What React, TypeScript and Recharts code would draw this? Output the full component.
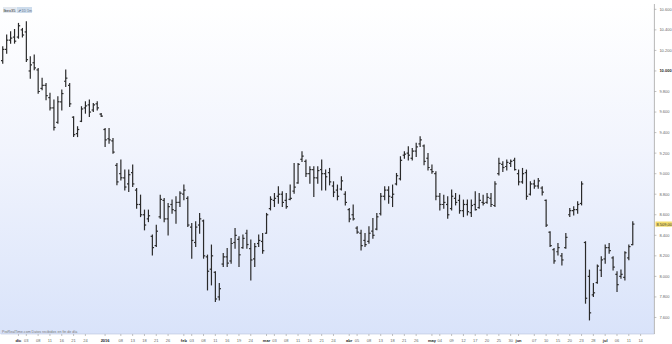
import React from 'react';
import { ComposedChart, Bar, XAxis, YAxis, ReferenceLine } from 'recharts';

const dates = [
  '2015-11-25','2015-11-26','2015-11-27','2015-11-30',
  '2015-12-01','2015-12-02','2015-12-03','2015-12-04','2015-12-07','2015-12-08','2015-12-09','2015-12-10','2015-12-11','2015-12-14','2015-12-15','2015-12-16','2015-12-17','2015-12-18','2015-12-21','2015-12-22','2015-12-23','2015-12-24','2015-12-28','2015-12-29','2015-12-30','2015-12-31',
  '2016-01-04','2016-01-05','2016-01-06','2016-01-07','2016-01-08','2016-01-11','2016-01-12','2016-01-13','2016-01-14','2016-01-15','2016-01-18','2016-01-19','2016-01-20','2016-01-21','2016-01-22','2016-01-25','2016-01-26','2016-01-27','2016-01-28','2016-01-29',
  '2016-02-01','2016-02-02','2016-02-03','2016-02-04','2016-02-05','2016-02-08','2016-02-09','2016-02-10','2016-02-11','2016-02-12','2016-02-15','2016-02-16','2016-02-17','2016-02-18','2016-02-19','2016-02-22','2016-02-23','2016-02-24','2016-02-25','2016-02-26','2016-02-29',
  '2016-03-01','2016-03-02','2016-03-03','2016-03-04','2016-03-07','2016-03-08','2016-03-09','2016-03-10','2016-03-11','2016-03-14','2016-03-15','2016-03-16','2016-03-17','2016-03-18','2016-03-21','2016-03-22','2016-03-23','2016-03-24','2016-03-29','2016-03-30','2016-03-31',
  '2016-04-01','2016-04-04','2016-04-05','2016-04-06','2016-04-07','2016-04-08','2016-04-11','2016-04-12','2016-04-13','2016-04-14','2016-04-15','2016-04-18','2016-04-19','2016-04-20','2016-04-21','2016-04-22','2016-04-25','2016-04-26','2016-04-27','2016-04-28','2016-04-29',
  '2016-05-02','2016-05-03','2016-05-04','2016-05-05','2016-05-06','2016-05-09','2016-05-10','2016-05-11','2016-05-12','2016-05-13','2016-05-16','2016-05-17','2016-05-18','2016-05-19','2016-05-20','2016-05-23','2016-05-24','2016-05-25','2016-05-26','2016-05-27','2016-05-30','2016-05-31',
  '2016-06-01','2016-06-02','2016-06-03','2016-06-06','2016-06-07','2016-06-08','2016-06-09','2016-06-10','2016-06-13','2016-06-14','2016-06-15','2016-06-16','2016-06-17','2016-06-20','2016-06-21','2016-06-22','2016-06-23','2016-06-24','2016-06-27','2016-06-28','2016-06-29','2016-06-30',
  '2016-07-01','2016-07-04','2016-07-05','2016-07-06','2016-07-07','2016-07-08','2016-07-11','2016-07-12',
  '2016-07-13','2016-07-14','2016-07-15','2016-07-18','2016-07-19',
];

const opens = [
  10100,10210,10300,10330,
  10330,10400,10380,10000,10080,10010,9830,9860,9740,9640,9500,9700,9900,9860,9550,9390,9510,9640,9670,9620,9680,9580,
  9430,9340,9320,9080,9000,8960,8900,9010,8840,8700,8600,8560,8390,8300,8580,8740,8560,8700,8640,8720,
  8800,8760,8480,8330,8500,8540,8190,8070,8040,7800,8120,8190,8150,8330,8360,8280,8420,8270,8170,8320,8340,
  8420,8660,8740,8780,8800,8740,8750,8830,8910,9140,9120,9000,9040,8960,9040,9000,9010,8880,8840,8850,8800,
  8650,8600,8470,8420,8350,8340,8440,8460,8610,8780,8840,8770,8900,8950,9180,9200,9150,9220,9290,9270,9150,
  9040,9000,8780,8700,8700,8660,8760,8740,8640,8700,8620,8700,8670,8720,8720,8760,8690,9000,9090,9070,9100,9130,
  9000,8920,9010,8800,8900,8880,8860,8740,8430,8260,8240,8200,8280,8600,8640,8650,8710,8330,8000,7820,7940,8060,
  8170,8280,8180,8020,8000,7990,8180,8310,
];
const highs = [
  10237,10350,10383,10405,
  10464,10415,10480,10140,10156,10026,9929,9880,9783,9718,9750,9815,10010,9880,9555,9458,9653,9701,9718,9685,9701,9588,
  9442,9442,9344,9101,9133,9036,9036,9085,8857,8792,8646,8646,8403,8500,8792,8760,8711,8744,8776,8825,
  8890,8776,8516,8533,8614,8549,8208,8306,8046,7932,8224,8273,8370,8468,8387,8403,8451,8354,8322,8403,8419,
  8614,8776,8808,8873,8825,8808,8890,9101,9101,9215,9133,9068,9068,9068,9133,9036,9052,8922,8890,8971,8825,
  8663,8695,8484,8451,8419,8484,8565,8614,8808,8873,8873,8890,9003,9166,9215,9263,9247,9296,9361,9280,9198,
  9085,9020,8808,8792,8776,8841,8808,8792,8744,8744,8744,8825,8808,8792,8808,8808,8922,9150,9117,9133,9133,9150,
  9036,9052,9036,8922,8938,8955,8873,8744,8435,8273,8322,8224,8419,8663,8679,8727,8922,8338,8062,7932,8111,8192,
  8306,8322,8192,8046,8062,8241,8306,8533,
];
const lows = [
  10075,10172,10270,10270,
  10318,10330,10091,9929,10010,9782,9815,9718,9620,9425,9490,9620,9847,9653,9360,9360,9506,9588,9555,9604,9620,9555,
  9263,9296,9198,8890,8938,8841,8825,8873,8663,8581,8452,8532,8208,8289,8565,8532,8403,8614,8516,8679,
  8744,8484,8176,8289,8419,8176,7867,7916,7754,7770,8095,8095,8127,8273,8095,8273,8273,7965,8095,8289,8224,
  8419,8646,8679,8711,8679,8663,8744,8808,8906,9117,8971,8906,8776,8906,8841,8841,8890,8776,8744,8841,8695,
  8532,8549,8419,8257,8289,8322,8370,8452,8597,8744,8711,8679,8890,8938,9150,9133,9133,9166,9263,9085,9036,
  9003,8744,8646,8663,8565,8646,8695,8614,8581,8597,8581,8646,8663,8695,8711,8679,8679,8987,9020,9036,9068,9036,
  8890,8906,8750,8792,8857,8857,8792,8484,8289,8127,8208,8111,8273,8581,8597,8614,8695,7738,7575,7802,7932,7997,
  8127,8224,8062,7851,7981,7965,8160,8306,
];
const closes = [
  10210,10300,10320,10290,
  10440,10350,10110,10060,10030,9800,9860,9760,9640,9450,9700,9780,9930,9680,9380,9430,9630,9660,9600,9670,9640,9560,
  9330,9330,9210,8920,8960,8870,8990,8900,8700,8600,8500,8590,8280,8440,8750,8560,8680,8650,8720,8810,
  8840,8500,8350,8480,8560,8200,8050,8200,7780,7880,8190,8130,8320,8400,8210,8370,8310,8160,8290,8350,8250,
  8600,8750,8760,8800,8720,8680,8760,8870,9090,9170,9000,9040,8960,9030,9000,8970,8920,8820,8780,8930,8720,
  8560,8560,8430,8300,8310,8420,8400,8580,8780,8840,8780,8800,8980,9130,9190,9180,9220,9260,9330,9120,9060,
  9020,8780,8700,8720,8600,8780,8720,8640,8700,8630,8690,8650,8740,8710,8770,8700,8900,9100,9060,9110,9120,9040,
  8920,9000,8780,8900,8880,8930,8820,8500,8300,8150,8280,8160,8380,8640,8650,8700,8900,7787,7645,7840,8100,8160,
  8280,8250,8090,7920,8020,8230,8290,8509,
];

const xTickDates = [
  '2015-12-01','2015-12-03','2015-12-08','2015-12-11','2015-12-16','2015-12-21','2015-12-24',
  '2016-01-04','2016-01-08','2016-01-13','2016-01-18','2016-01-21','2016-01-26',
  '2016-02-01','2016-02-03','2016-02-08','2016-02-11','2016-02-16','2016-02-19','2016-02-24',
  '2016-03-01','2016-03-03','2016-03-08','2016-03-11','2016-03-16','2016-03-21','2016-03-24',
  '2016-04-01','2016-04-05','2016-04-08','2016-04-13','2016-04-18','2016-04-21','2016-04-26',
  '2016-05-02','2016-05-04','2016-05-09','2016-05-12','2016-05-17','2016-05-20','2016-05-25','2016-05-30',
  '2016-06-01','2016-06-07','2016-06-10','2016-06-15','2016-06-20','2016-06-23','2016-06-28',
  '2016-07-01','2016-07-06','2016-07-11','2016-07-14',
];
const xTickLabels = [
  'dic','03','08','11','16','21','24',
  '2016','08','13','18','21','26',
  'feb','03','08','11','16','19','24',
  'mar','03','08','11','16','21','24',
  'abr','05','08','13','18','21','26',
  'may','04','09','12','17','20','25','30',
  'jun','07','10','15','20','23','28',
  'jul','06','11','14',
];
const monthTickLabels = ['dic','2016','feb','mar','abr','may','jun','jul'];

const yTicks = [7600, 7800, 8000, 8200, 8400, 8600, 8800, 9000, 9200, 9400, 9600, 9800, 10000, 10200, 10400, 10600];
const lastPrice = 8509;

const data = dates.map((date, i) => ({
  date,
  open: opens[i] ?? null,
  high: highs[i] ?? null,
  low: lows[i] ?? null,
  close: closes[i] ?? null,
}));

const FONT = '"Liberation Sans", Arial, sans-serif';

const OhlcShape = (props: any) => {
  const { x, y, width, height, payload } = props;
  if (!payload || payload.high == null || payload.low == null) return null;
  const top = Math.min(y, y + height);
  const bottom = Math.max(y, y + height);
  const span = payload.high - payload.low || 1;
  const pix = (v: number) => top + ((payload.high - v) / span) * (bottom - top);
  const cx = x + width / 2;
  const t = 1.7;
  const yo = pix(payload.open);
  const yc = pix(payload.close);
  return (
    <g stroke="#2a2a2a" strokeWidth={1.2}>
      <line x1={cx} x2={cx} y1={top - 0.4} y2={bottom + 0.4} />
      <line x1={cx - t} x2={cx} y1={yo} y2={yo} />
      <line x1={cx} x2={cx + t} y1={yc} y2={yc} />
    </g>
  );
};

const XTick = (props: any) => {
  const { x, y, payload } = props;
  const i = xTickDates.indexOf(payload.value);
  const label = i >= 0 ? xTickLabels[i] : '';
  const isMonth = monthTickLabels.includes(label);
  return (
    <text x={x} y={y + 4} textAnchor="middle" fontFamily={FONT} fontSize={4}
      fontWeight={isMonth ? 700 : 400} fill={isMonth ? '#222' : '#666'}>
      {label}
    </text>
  );
};

const fmt = (v: number) => {
  const s = String(Math.round(v));
  return s.replace(/\B(?=(\d{3})+(?!\d))/g, '.');
};

const YTick = (props: any) => {
  const { x, y, payload } = props;
  const strong = payload.value === 10000;
  return (
    <text x={x + 1} y={y + 1.4} textAnchor="start" fontFamily={FONT} fontSize={4}
      fontWeight={strong ? 700 : 400} fill={strong ? '#222' : '#666'}>
      {fmt(payload.value)}
    </text>
  );
};

const PriceTag = (props: any) => {
  const vb = props.viewBox || {};
  const px = (vb.x ?? 0) + (vb.width ?? 0);
  const py = vb.y ?? 0;
  return (
    <g>
      <rect x={px + 1} y={py - 2.6} width={16.5} height={5.2} fill="#f3dc6c" />
      <text x={px + 2} y={py + 1.4} fontFamily={FONT} fontSize={4} fill="#333">8.509,00</text>
    </g>
  );
};

export default function App() {
  return (
    <div style={{ position: 'absolute', left: 0, top: 0, width: 672, height: 344, background: '#ffffff', overflow: 'hidden' }}>
      <div style={{
        position: 'absolute', left: 0, top: 4, width: 654, height: 330,
        background: 'linear-gradient(to bottom, #ffffff 0%, #f1f4fd 45%, #d9e3fa 100%)',
      }} />
      <div style={{ position: 'absolute', left: 0, top: 0 }}>
        <ComposedChart width={672} height={344} data={data}
          margin={{ top: 4, right: 0, bottom: 0, left: 0.73 }} barCategoryGap={0}>
          <XAxis dataKey="date" ticks={xTickDates} interval={0} tick={<XTick />} height={10}
            tickSize={2} tickLine={{ stroke: '#999', strokeWidth: 0.6 }}
            axisLine={{ stroke: '#b8c2dc', strokeWidth: 0.6 }} />
          <YAxis orientation="right" type="number" domain={[7439, 10652]} allowDataOverflow
            ticks={yTicks} interval={0} width={17.6} tick={<YTick />} tickSize={2}
            tickLine={{ stroke: '#999', strokeWidth: 0.6 }} axisLine={{ stroke: '#999', strokeWidth: 0.7 }} />
          <Bar dataKey={(d: any) => (d.high == null ? null : [d.low, d.high])} shape={OhlcShape}
            isAnimationActive={false} fill="#2a2a2a" />
          <ReferenceLine y={lastPrice} stroke="none" ifOverflow="visible" label={(p: any) => <PriceTag {...p} />} />
        </ComposedChart>
      </div>
      <svg width={672} height={344} style={{ position: 'absolute', left: 0, top: 0, pointerEvents: 'none' }}>
        <rect x={3} y={7} width={13} height={6} fill="#e3e8ef" />
        <text x={3.5} y={11.6} fontFamily={FONT} fontSize={4} fill="#333">Ibex35</text>
        <rect x={16.5} y={7} width={15.5} height={6} fill="#cddcec" />
        <text x={17.5} y={11.6} fontFamily={FONT} fontSize={3.6} fill="#6a7a90">⬈ 1D 1m</text>
        <text x={2} y={333} fontFamily={FONT} fontSize={3.6} fill="#777">ProRealTime.com  Datos recibidos en fin de día</text>
      </svg>
    </div>
  );
}
